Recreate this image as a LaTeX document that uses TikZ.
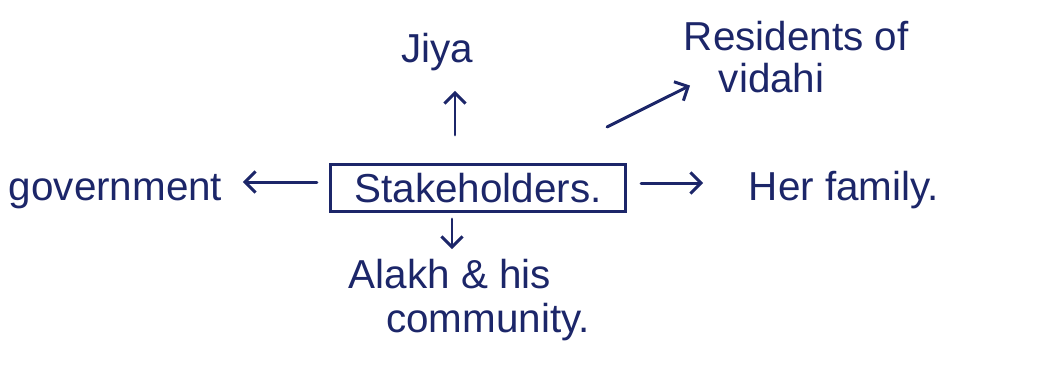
\documentclass[tikz,border=0pt]{standalone}
\usepackage{fontspec}
\setmainfont{Liberation Sans}
\usetikzlibrary{arrows.meta,calc}
\definecolor{ink}{RGB}{28,38,105}
\tikzset{
  lbl/.style={text=ink,font=\fontsize{23}{27}\selectfont,inner sep=2pt,anchor=base},
  hub/.style={draw=ink,line width=1.8pt,minimum width=5.9cm,minimum height=0.94cm,inner sep=0pt,text=ink,font=\fontsize{23}{27}\selectfont},
  arr/.style={draw=ink,line width=1.7pt,line cap=round,-{Straight Barb[length=6pt,width=12pt,line width=1.7pt]}}
}
\begin{document}
\begin{tikzpicture}[x=0.02cm,y=-0.02cm]
\useasboundingbox[fill=white] (0,0) rectangle (1038,387);
\node[hub] (s) at (478,188) {Stakeholders.};
\node[lbl] (j) at (437,62) {Jiya};
\node[lbl,anchor=base west] (r) at (680,50) {Residents of};
\node[lbl,anchor=base west] (v) at (715,92) {vidahi};
\node[lbl,anchor=base west] (h) at (745,200) {Her family.};
\node[lbl,anchor=base west] (g) at (5,200) {government};
\node[lbl] (a) at (450,288) {Alakh \& his};
\node[lbl] (c) at (488,332) {community.};
\draw[arr] ($(s.north)+(-23,-28)$) -- ($(s.north)+(-23,-72)$);
\draw[arr] ($(s.north east)+(-20,-36)$) -- ($(v.west)+(-25,8)$);
\draw[arr] ($(s.east)+(14,-5)$) -- ($(s.east)+(76,-5)$);
\draw[arr] ($(s.west)+(-12,-6)$) -- ($(s.west)+(-86,-6)$);
\draw[arr] ($(s.south)+(-26,6)$) -- ($(s.south)+(-26,36)$);
\end{tikzpicture}
\end{document}
